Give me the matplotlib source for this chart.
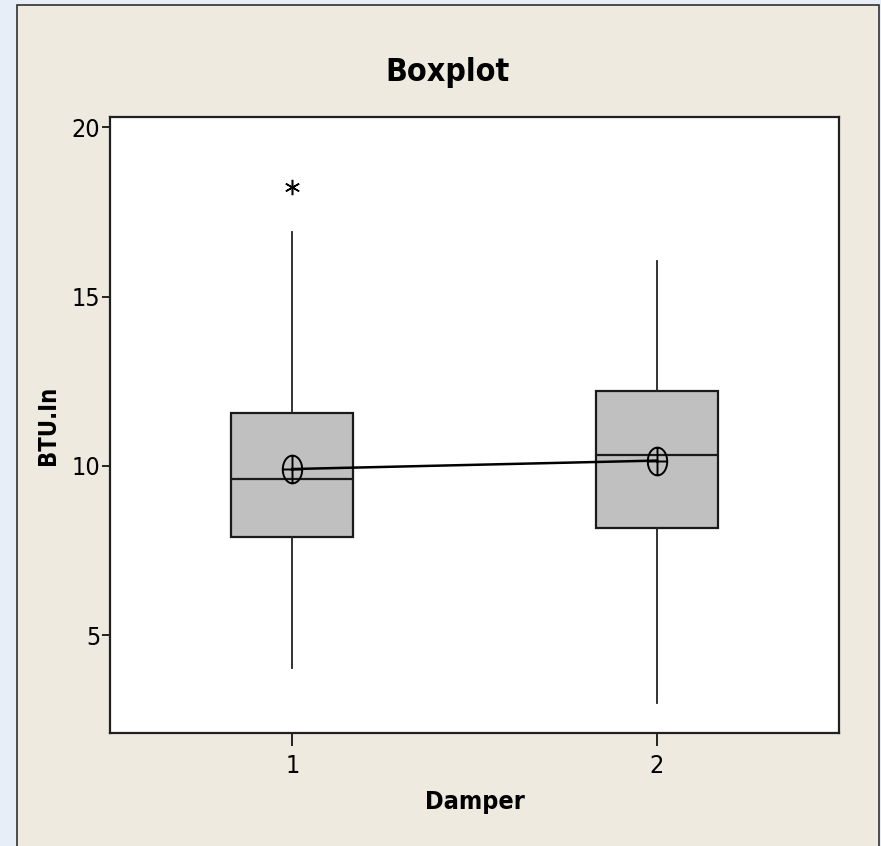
import numpy as np
import matplotlib
matplotlib.use('Agg')
import matplotlib.pyplot as plt
from matplotlib.path import Path
from matplotlib.patches import Rectangle

plt.rcParams['font.family'] = ['Liberation Sans Narrow', 'DejaVu Sans']
plt.rcParams['font.stretch'] = 'condensed'

# データ
groups = ['1', '2']
q1 = [7.91, 8.16]
med = [9.61, 10.32]
q3 = [11.56, 12.21]
whis_lo = [4.04, 3.0]
whis_hi = [16.92, 16.06]
means = [9.91, 10.16]
outliers = [[18.23], []]

positions = [1, 2]

# 平均値のマーカー（楕円＋十字）
circ = Path.unit_circle()
ell = Path(circ.vertices * [0.7, 1.0], circ.codes)
cross = Path([[-0.7, 0], [0.7, 0], [0, -1], [0, 1]],
             [Path.MOVETO, Path.LINETO, Path.MOVETO, Path.LINETO])
mean_marker = Path.make_compound_path(ell, cross)

fig = plt.figure(figsize=(8.81, 8.46), dpi=100)
fig.patch.set_facecolor('#e7eef7')
fig.add_artist(Rectangle((17 / 881, -0.02), (879 - 17) / 881, 0.02 + (846 - 5) / 846,
                         transform=fig.transFigure, facecolor='#eeeae0',
                         edgecolor='#303030', linewidth=1.2, zorder=-10))

ax = fig.add_axes([110 / 881, (846 - 733) / 846, (839 - 110) / 881, (733 - 117) / 846])
ax.set_facecolor('white')

stats = []
for i in range(len(groups)):
    stats.append({'label': groups[i], 'q1': q1[i], 'med': med[i], 'q3': q3[i],
                  'whislo': whis_lo[i], 'whishi': whis_hi[i], 'fliers': outliers[i]})

ax.bxp(stats, positions=positions, widths=0.334, patch_artist=True, showcaps=False,
       boxprops=dict(facecolor='#c0c0c0', edgecolor='#1a1a1a', linewidth=1.6),
       medianprops=dict(color='#1a1a1a', linewidth=1.6),
       whiskerprops=dict(color='#222222', linewidth=1.3),
       flierprops=dict(marker=(6, 2, 0), markersize=11, markeredgecolor='black',
                       markeredgewidth=1.1, linestyle='none'))

ax.plot(positions, means, color='black', linewidth=1.8, zorder=5)
ax.plot(positions, means, linestyle='none', marker=mean_marker, markersize=20,
        markerfacecolor='none', markeredgecolor='black', markeredgewidth=1.4, zorder=6)

ax.set_xlim(0.5, 2.5)
ax.set_ylim(2.12, 20.3)
ax.set_yticks([5, 10, 15, 20])
ax.set_xticks(positions)
ax.set_xticklabels(groups)

for s in ax.spines.values():
    s.set_color('#202020')
    s.set_linewidth(1.6)

ax.tick_params(axis='y', direction='out', length=6, width=1.2, labelsize=18, pad=1)
ax.tick_params(axis='x', direction='out', length=9, width=1.2, labelsize=18, pad=6)

# タイトルは外枠の中央に配置
fig.text(448 / 881, (846 - 81) / 846, 'Boxplot', fontsize=23, fontweight='bold',
         ha='center', va='baseline')
ax.set_xlabel('Damper', fontsize=18, fontweight='bold', labelpad=9)
ax.set_ylabel('BTU.In', fontsize=17, fontweight='bold', labelpad=8)

fig.savefig('out.png', dpi=100)
